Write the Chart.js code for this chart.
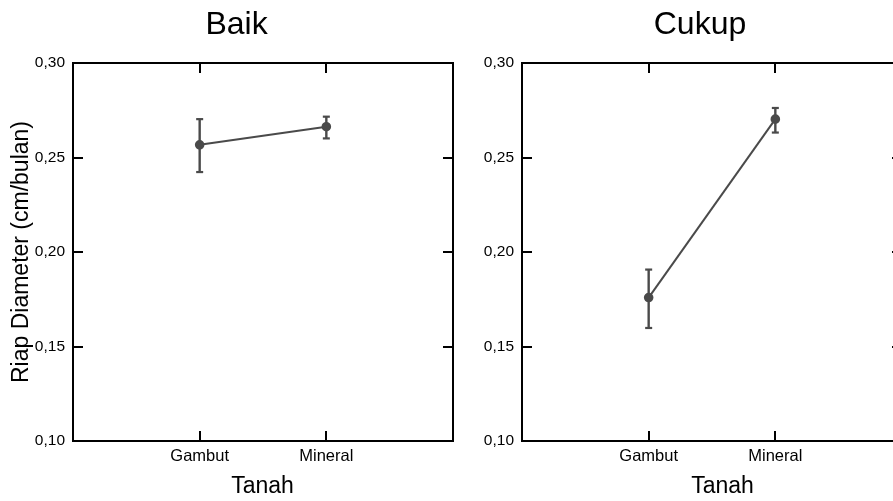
<!DOCTYPE html>
<html>
<head>
<meta charset="utf-8">
<script src="https://cdn.jsdelivr.net/npm/chart.js@4"></script>
<style>
  html, body { margin: 0; padding: 0; background: #fff; overflow: hidden; }
  #wrap { position: relative; width: 893px; height: 501px; overflow: hidden; }
  canvas { position: absolute; top: 0; }
</style>
</head>
<body>
<div id="wrap">
  <canvas id="baik" width="473" height="501" style="left:0"></canvas>
  <canvas id="cukup" width="460" height="501" style="left:470px"></canvas>
</div>
<script>
// data
const tanah = ['Gambut', 'Mineral'];
const baikMean = [0.2567, 0.2663];
const baikLow = [0.2423, 0.2601];
const baikHigh = [0.2703, 0.2716];
const cukupMean = [0.1759, 0.2703];
const cukupLow = [0.1598, 0.2632];
const cukupHigh = [0.1907, 0.2762];

const FONT = '"Liberation Sans", Arial, Helvetica, sans-serif';
const GRAY = '#4a4a4a';
Chart.defaults.font.family = FONT;
Chart.defaults.color = '#000';

// x-axis title drawn under the plot
const xTitle = {
  id: 'xTitle',
  afterDraw(chart, args, opts) {
    const ctx = chart.ctx;
    ctx.save();
    ctx.font = '23px ' + FONT;
    ctx.fillStyle = '#000';
    ctx.textAlign = 'center';
    ctx.textBaseline = 'middle';
    ctx.fillText(opts.text, opts.x, opts.y);
    ctx.restore();
  }
};

function buildDatasets(mean, low, high) {
  let ds = [];
  tanah.forEach((t, i) => {
    ds.push({
      data: [{x: i + 1, y: low[i]}, {x: i + 1, y: high[i]}],
      borderColor: GRAY,
      borderWidth: 2.4,
      pointStyle: 'line',
      pointRadius: 3.5,
      pointBorderColor: GRAY,
      pointBorderWidth: 2.2,
      order: 2
    });
  });
  ds.push({
    data: mean.map((v, i) => ({x: i + 1, y: v})),
    borderColor: GRAY,
    backgroundColor: GRAY,
    borderWidth: 2,
    pointRadius: 3.8,
    pointBackgroundColor: GRAY,
    pointBorderColor: GRAY,
    order: 1
  });
  return ds;
}

function makeChart(id, title, mean, low, high, leftW, rightW, showYTitle, xTitleX) {
  const frame = {
    grid: { drawOnChartArea: false, drawTicks: true, tickLength: -10, color: '#000', lineWidth: 2 },
    border: { display: true, color: '#000', width: 2 }
  };
  new Chart(document.getElementById(id), {
    type: 'line',
    data: { datasets: buildDatasets(mean, low, high) },
    options: {
      responsive: false,
      animation: false,
      layout: { padding: 0 },
      plugins: {
        legend: { display: false },
        tooltip: { enabled: false },
        title: {
          display: true,
          text: title,
          color: '#000',
          font: { size: 32, weight: 'normal' },
          padding: { top: 6, bottom: 18.6 }
        },
        xTitle: { text: 'Tanah', x: xTitleX, y: 487 }
      },
      scales: {
        x: {
          type: 'linear',
          position: 'bottom',
          min: 0,
          max: 3,
          afterBuildTicks: s => { s.ticks = tanah.map((t, i) => ({value: i + 1})); },
          ticks: { callback: v => tanah[v - 1], font: { size: 16.5 }, color: '#000', padding: 16, maxRotation: 0 },
          afterFit: s => { s.height = 60; },
          ...frame
        },
        x2: {
          type: 'linear',
          position: 'top',
          min: 0,
          max: 3,
          afterBuildTicks: s => { s.ticks = tanah.map((t, i) => ({value: i + 1})); },
          ticks: { display: false },
          afterFit: s => { s.height = 0; },
          ...frame
        },
        y: {
          position: 'left',
          min: 0.10,
          max: 0.30,
          ticks: { stepSize: 0.05, callback: v => v.toFixed(2).replace('.', ','), font: { size: 15.5 }, color: '#000', padding: 18 },
          title: {
            display: showYTitle,
            text: 'Riap Diameter (cm/bulan)',
            color: '#000',
            font: { size: 23 },
            padding: { top: 8, bottom: 0 }
          },
          afterFit: s => { s.width = leftW; },
          ...frame
        },
        y2: {
          position: 'right',
          min: 0.10,
          max: 0.30,
          ticks: { display: false, stepSize: 0.05 },
          afterFit: s => { s.width = rightW; },
          ...frame
        }
      }
    },
    plugins: [xTitle]
  });
}

makeChart('baik', 'Baik', baikMean, baikLow, baikHigh, 73, 20, true, 262.5);
makeChart('cukup', 'Cukup', cukupMean, cukupLow, cukupHigh, 52, 28, false, 252.5);
</script>
</body>
</html>
